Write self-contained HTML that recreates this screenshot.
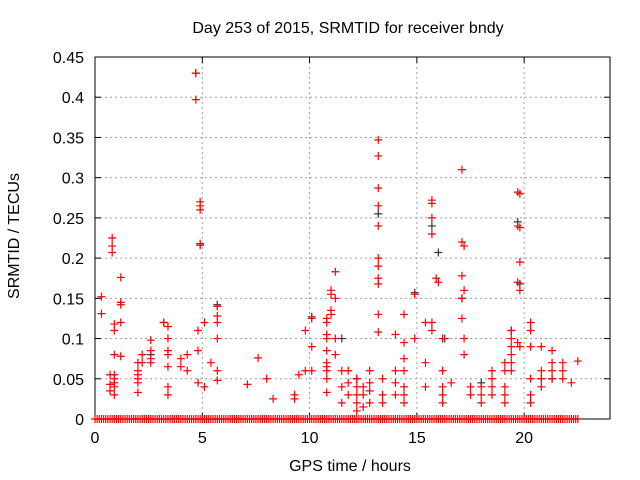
<!DOCTYPE html>
<html><head><meta charset="utf-8"><style>
body{margin:0;background:#fff;}
svg{display:block;font-family:"Liberation Sans",sans-serif;}
</style></head><body>
<svg id="chart" width="640" height="480" viewBox="0 0 640 480" xmlns="http://www.w3.org/2000/svg">
<rect width="640" height="480" fill="#fff"/>
<text x="348" y="33" font-size="16" text-anchor="middle">Day 253 of 2015, SRMTID for receiver bndy</text>
<text x="350" y="471" font-size="16" text-anchor="middle">GPS time / hours</text>
<text x="0" y="0" font-size="16" text-anchor="middle" transform="translate(19,236) rotate(-90)">SRMTID / TECUs</text>
<g id="grid"></g><g id="axes"></g><g id="black"></g><g id="red"></g>
</svg>
<script>
const xTicks=[0,5,10,15,20];
const yTicks=[0,0.05,0.1,0.15,0.2,0.25,0.3,0.35,0.4,0.45];
const yTickLabels=["0","0.05","0.1","0.15","0.2","0.25","0.3","0.35","0.4","0.45"];
const redX=[0.3,0.3,0.8,0.8,0.8,0.9,0.9,0.9,0.9,0.9,0.9,0.9,0.9,1.2,1.2,1.2,1.2,1.2,0.7,0.7,0.7,2.0,2.0,2.0,2.0,2.0,2.0,2.2,2.2,2.6,2.6,2.6,2.6,3.2,3.4,3.4,3.4,3.4,3.4,3.4,3.4,4.0,4.0,4.3,4.3,4.7,4.7,4.9,4.9,4.9,4.9,4.9,4.8,4.8,4.8,5.1,5.1,5.7,5.7,5.7,5.7,5.7,5.7,5.4,7.1,7.6,8.0,8.3,9.3,9.3,9.5,9.8,9.8,10.1,10.1,10.1,10.8,10.8,10.8,10.8,10.8,10.8,10.8,10.8,10.8,10.8,11.0,11.0,11.0,11.0,11.2,11.2,11.2,11.2,11.5,11.5,11.5,11.8,11.8,11.8,12.2,12.2,12.2,12.2,12.2,12.5,12.5,12.5,12.8,12.8,12.8,12.8,13.2,13.2,13.2,13.2,13.2,13.2,13.2,13.2,13.2,13.2,13.2,13.4,13.4,13.4,14.0,14.0,14.0,14.0,14.4,14.4,14.4,14.4,14.4,14.4,14.4,14.9,14.9,15.4,15.4,15.4,15.7,15.7,15.7,15.7,15.9,16.0,15.7,15.7,16.2,16.2,16.2,16.2,16.2,16.6,17.1,17.1,17.2,17.1,17.2,17.1,17.1,17.2,17.2,17.5,17.5,18.0,18.0,18.0,18.5,18.5,18.5,18.5,19.1,19.1,19.1,19.1,19.1,19.4,19.4,19.4,19.4,19.4,19.4,19.7,19.8,19.7,19.8,19.8,19.7,19.8,19.7,19.8,20.3,20.3,20.3,20.3,20.3,20.3,20.8,20.8,20.8,20.8,21.3,21.3,21.3,21.3,21.8,21.8,21.8,22.2,22.5];
const redY=[0.152,0.131,0.225,0.215,0.207,0.118,0.11,0.08,0.055,0.045,0.04,0.03,0.05,0.176,0.145,0.142,0.12,0.078,0.043,0.035,0.055,0.06,0.055,0.05,0.07,0.045,0.033,0.08,0.07,0.085,0.075,0.07,0.098,0.12,0.115,0.1,0.085,0.08,0.065,0.04,0.03,0.075,0.065,0.06,0.08,0.43,0.397,0.27,0.265,0.26,0.218,0.216,0.11,0.085,0.045,0.12,0.04,0.14,0.128,0.12,0.1,0.06,0.048,0.07,0.043,0.076,0.05,0.025,0.03,0.025,0.055,0.11,0.06,0.125,0.09,0.06,0.125,0.12,0.105,0.1,0.085,0.07,0.065,0.06,0.05,0.033,0.155,0.135,0.16,0.13,0.183,0.15,0.1,0.08,0.06,0.04,0.02,0.06,0.045,0.03,0.05,0.04,0.03,0.02,0.01,0.04,0.03,0.015,0.06,0.045,0.035,0.02,0.347,0.327,0.287,0.265,0.24,0.2,0.19,0.175,0.168,0.13,0.108,0.05,0.03,0.02,0.105,0.06,0.045,0.03,0.13,0.095,0.075,0.06,0.04,0.03,0.02,0.155,0.1,0.12,0.07,0.04,0.272,0.268,0.25,0.23,0.175,0.17,0.12,0.11,0.1,0.06,0.04,0.03,0.02,0.045,0.31,0.22,0.215,0.178,0.16,0.15,0.125,0.1,0.08,0.04,0.03,0.04,0.03,0.02,0.06,0.05,0.04,0.03,0.07,0.06,0.04,0.03,0.02,0.11,0.1,0.09,0.08,0.07,0.06,0.282,0.28,0.24,0.238,0.195,0.17,0.16,0.095,0.09,0.12,0.11,0.09,0.05,0.03,0.02,0.09,0.06,0.05,0.04,0.085,0.07,0.06,0.05,0.07,0.06,0.05,0.045,0.072];
const blackX=[4.7,10.1,13.2,14.9,15.7,16.0,17.1,19.7,19.8,19.4,2.6,11.5,16.3,3.2,5.7,12.2,18.0,20.8,21.3];
const blackY=[0.43,0.127,0.255,0.157,0.24,0.207,0.15,0.245,0.168,0.11,0.08,0.1,0.1,0.12,0.142,0.05,0.045,0.05,0.05];
const zeroX=[0,0.1,0.2,0.3,0.4,0.5,0.6,0.7,0.8,0.9,1.0,1.1,1.2,1.3,1.4,1.5,1.6,1.7,1.8,1.9,2.0,2.1,2.2,2.3,2.4,2.5,2.6,2.7,2.8,2.9,3.0,3.1,3.2,3.3,3.4,3.5,3.6,3.7,3.8,3.9,4.0,4.1,4.2,4.3,4.4,4.5,4.6,4.7,4.8,4.9,5.0,5.1,5.2,5.3,5.4,5.5,5.6,5.7,5.8,5.9,6.0,6.1,6.2,6.3,6.4,6.5,6.6,6.7,6.8,6.9,7.0,7.1,7.2,7.3,7.4,7.5,7.6,7.7,7.8,7.9,8.0,8.1,8.2,8.3,8.4,8.5,8.6,8.7,8.8,8.9,9.0,9.1,9.2,9.3,9.4,9.5,9.6,9.7,9.8,9.9,10.0,10.1,10.2,10.3,10.4,10.5,10.6,10.7,10.8,10.9,11.0,11.1,11.2,11.3,11.4,11.5,11.6,11.7,11.8,11.9,12.0,12.1,12.2,12.3,12.4,12.5,12.6,12.7,12.8,12.9,13.0,13.1,13.2,13.3,13.4,13.5,13.6,13.7,13.8,13.9,14.0,14.1,14.2,14.3,14.4,14.5,14.6,14.7,14.8,14.9,15.0,15.1,15.2,15.3,15.4,15.5,15.6,15.7,15.8,15.9,16.0,16.1,16.2,16.3,16.4,16.5,16.6,16.7,16.8,16.9,17.0,17.1,17.2,17.3,17.4,17.5,17.6,17.7,17.8,17.9,18.0,18.1,18.2,18.3,18.4,18.5,18.6,18.7,18.8,18.9,19.0,19.1,19.2,19.3,19.4,19.5,19.6,19.7,19.8,19.9,20.0,20.1,20.2,20.3,20.4,20.5,20.6,20.7,20.8,20.9,21.0,21.1,21.2,21.3,21.4,21.5,21.6,21.7,21.8,21.9,22.0,22.1,22.2,22.3,22.4,22.5];
const X0=95,X1=610,Y0=419,Y1=57,XMAX=24,YMAX=0.45;
const sx=v=>X0+(X1-X0)*v/XMAX, sy=v=>Y0-(Y0-Y1)*v/YMAX;
const NS="http://www.w3.org/2000/svg";
function mk(tag,parent,attrs){const e=document.createElementNS(NS,tag);for(const k in attrs)e.setAttribute(k,attrs[k]);parent.appendChild(e);return e;}
const grid=document.getElementById('grid'),axes=document.getElementById('axes');
xTicks.forEach((t,i)=>{const x=sx(t);
 if(t>0){const g=mk('line',grid,{x1:x,x2:x,y1:Y0,y2:Y1,stroke:'#a0a0a0','stroke-dasharray':'2,3'});
 
 }
 const l=mk('line',axes,{x1:x,x2:x,y1:Y0,y2:Y0-6,stroke:'#000'});
 
 
 const l2=mk('line',axes,{x1:x,x2:x,y1:Y1,y2:Y1+6,stroke:'#000'});
 
 
 const tx=mk('text',axes,{x:x,y:Y0+24,'font-size':16,'text-anchor':'middle'});tx.textContent=String(t);
 
 
});
yTicks.forEach((t,i)=>{const y=sy(t);
 if(t>0&&t<YMAX){const g=mk('line',grid,{x1:X0,x2:X1,y1:y,y2:y,stroke:'#a0a0a0','stroke-dasharray':'2,3'});
 
 }
 const l=mk('line',axes,{x1:X0,x2:X0+6,y1:y,y2:y,stroke:'#000'});
 
 
 const l2=mk('line',axes,{x1:X1,x2:X1-6,y1:y,y2:y,stroke:'#000'});
 
 
 const tx=mk('text',axes,{x:X0-11,y:y+6,'font-size':16,'text-anchor':'end'});tx.textContent=yTickLabels[i];
 
 
});
const frame=mk('rect',axes,{x:X0,y:Y1,width:X1-X0,height:Y0-Y1,fill:'none',stroke:'#000'});


function cross(parent,x,y,color,name){const p=mk('path',parent,{d:`M${x-4},${y}h8M${x},${y-4}v8`,stroke:color,'stroke-width':1.2});
 
 }
const black=document.getElementById('black'),red=document.getElementById('red');
blackX.forEach((v,i)=>cross(black,sx(v),sy(blackY[i]),'#333','black-point'));
redX.forEach((v,i)=>cross(red,sx(v),sy(redY[i]),'#ff0000','red-point'));
zeroX.forEach(v=>cross(red,sx(v),sy(0),'#ff0000','zero-point'));
</script>
</body></html>
